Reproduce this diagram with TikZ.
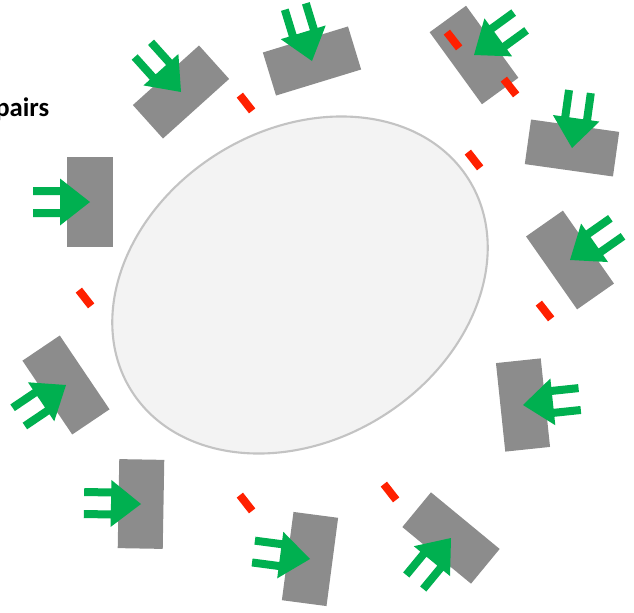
\documentclass[tikz,border=0pt]{standalone}
\usepackage{fontspec}
\newfontfamily\labelfont{Carlito}
\usetikzlibrary{calc}

\definecolor{boxgray}{RGB}{140,140,140}
\definecolor{beamgreen}{RGB}{0,176,80}
\definecolor{gapred}{RGB}{255,32,0}
\definecolor{ringfill}{RGB}{243,243,243}
\definecolor{ringline}{RGB}{195,195,195}

% one sensor block with its incoming beam, tip at the block centre
\tikzset{
  sensor/.pic={
    \node[sensorbox] (-box) at (0,0) {};
    \fill[beamgreen] (0,0) -- (23.5,-30) -- (15,-30) -- (15,-57) -- (7,-57)
      -- (7,-30) -- (-7,-30) -- (-7,-57) -- (-15,-57) -- (-15,-30)
      -- (-23.5,-30) -- cycle;
  }
}

\begin{document}
\begin{tikzpicture}[
  x=0.025cm, y=-0.025cm,
  sensorbox/.style={fill=boxgray, minimum width=2.225cm, minimum height=1.125cm,
                    inner sep=0pt, transform shape},
  gapmark/.style={fill=gapred, minimum width=0.5cm, minimum height=0.2cm,
                  inner sep=0pt, rotate=-52},
]
  \useasboundingbox (0,0) rectangle (634,613);
  \clip (0,0) rectangle (634,613);

  \draw[ringline, fill=ringfill, line width=1.5pt, rotate around={32:(300,285)}]
       (300,285) ellipse [x radius=199, y radius=155];

  \node[anchor=base west, inner sep=0pt,
        font=\labelfont\bfseries\fontsize{19}{23}\selectfont] (title) at (-5,116) {pairs};

  \pic[rotate=42]    (s1)  at (181,92)  {sensor};
  \pic[rotate=17]    (s2)  at (312,61)  {sensor};
  \pic[rotate=-54]   (s3)  at (474,55)  {sensor};
  \pic[rotate=-8]    (s4)  at (572,148) {sensor};
  \pic[rotate=-55]   (s5)  at (570,260) {sensor};
  \pic[rotate=-84]   (s6)  at (523,405) {sensor};
  \pic[rotate=140.5] (s7)  at (451,538) {sensor};
  \pic[rotate=82.5]  (s8)  at (310,559) {sensor};
  \pic[rotate=89]    (s9)  at (141,504) {sensor};
  \pic[rotate=124]   (s10) at (66,385)  {sensor};
  \pic[rotate=90]    (s11) at (90,202)  {sensor};

  \node[gapmark] (g1) at (246,103) {};
  \node[gapmark] (g2) at (453,40)  {};
  \node[gapmark] (g3) at (510,87)  {};
  \node[gapmark] (g4) at (474,160) {};
  \node[gapmark] (g5) at (85,298)  {};
  \node[gapmark] (g6) at (545,311) {};
  \node[gapmark] (g7) at (246,503) {};
  \node[gapmark] (g8) at (390,492) {};
\end{tikzpicture}
\end{document}
